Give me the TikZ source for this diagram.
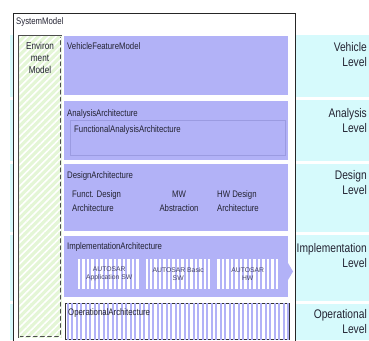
\documentclass[tikz,border=0pt]{standalone}
\usepackage{fontspec}
\setmainfont{Liberation Sans}[FakeStretch=0.82]
\newfontfamily\autofont{Liberation Sans}
\usetikzlibrary{patterns.meta}
\definecolor{lav}{RGB}{178,178,247}
\definecolor{lavline}{RGB}{155,155,225}
\definecolor{cyanbg}{RGB}{214,250,252}
\definecolor{envg}{RGB}{228,246,214}
\definecolor{txt}{RGB}{35,35,50}
\definecolor{autotxt}{RGB}{70,70,105}
\begin{document}
\begin{tikzpicture}[x=1pt,y=-1pt,
  every node/.style={inner sep=0pt, text=txt},
  ttl/.style={font=\fontsize{9.5}{11}\selectfont, anchor=west},
  sub/.style={font=\fontsize{9.5}{14}\selectfont},
  lvl/.style={font=\fontsize{12.5}{15}\selectfont, anchor=east, align=right},
  blk/.style={fill=lav, draw=none, anchor=north west},
  vstripes/.style={fill=white, postaction={pattern={Lines[angle=90,distance=4.5pt,line width=2pt]}, pattern color=lav}},
  autobox/.style={vstripes, anchor=north west, minimum height=30pt},
  autotext/.style={font=\autofont\fontsize{6.8}{8}\selectfont, text=autotxt, align=center}
]
\useasboundingbox (0,0) rectangle (369,340);
\begin{scope}
\clip (0,0) rectangle (369,340);
% level rows
\fill[cyanbg] (10,35) rectangle (369,97);
\fill[cyanbg] (10,100) rectangle (369,161);
\fill[cyanbg] (10,164) rectangle (369,232);
\fill[cyanbg] (10,235) rectangle (369,301);
\fill[cyanbg] (10,304) rectangle (369,340);
% system model
\node[draw=black!85, line width=0.7pt, fill=white, anchor=north west,
      minimum width=282pt, minimum height=335pt] (sys) at (13,13) {};
\node[ttl] (systxt) at (16,22) {SystemModel};
% environment model
\node[anchor=north west, minimum width=42pt, minimum height=301pt,
      draw=black!70, line width=0.5pt, double=envg, double distance=0.9pt,
      fill=envg, postaction={pattern={Lines[angle=45,distance=5pt,line width=1.6pt]}, pattern color=white}]
      (env) at (19,36) {};
\node[font=\fontsize{10}{12}\selectfont, align=center] (envtxt) at (40,58) {Environ\\ment\\Model};
% vehicle feature model
\node[blk, minimum width=224pt, minimum height=59pt] (veh) at (64,36) {};
\node[ttl] (vehtxt) at (67,46) {VehicleFeatureModel};
% analysis
\node[blk, minimum width=224pt, minimum height=59pt] (ana) at (64,101) {};
\node[ttl] (anatxt) at (67,114) {AnalysisArchitecture};
\node[anchor=north west, minimum width=215pt, minimum height=35pt, draw=lavline, line width=0.4pt] (fana) at (70,120) {};
\node[ttl] (fanatxt) at (74,130) {FunctionalAnalysisArchitecture};
% design
\node[blk, minimum width=224pt, minimum height=67pt] (des) at (64,164) {};
\node[ttl] (destxt) at (67,176) {DesignArchitecture};
\node[sub, align=left, anchor=west] (fdes) at (72,201) {Funct. Design\\Architecture};
\node[sub, align=center] (mw) at (179,201) {MW\\Abstraction};
\node[sub, align=left, anchor=west] (hw) at (217,201) {HW Design\\Architecture};
% implementation
\node[blk, minimum width=224pt, minimum height=61pt] (impl) at (64,236) {};
\fill[lav] (288,263) -- (293,271.5) -- (288,280) -- cycle;
\node[ttl] (impltxt) at (67,247) {ImplementationArchitecture};
\node[autobox, minimum width=62pt] (aapp) at (78,259) {};
\node[autobox, minimum width=64pt] (abas) at (146,259) {};
\node[autobox, minimum width=63pt] (ahw) at (216,259) {};
\node[autotext] at (aapp.center) {AUTOSAR\\Application SW};
\node[autotext] at (abas.center) {AUTOSAR Basic\\SW};
\node[autotext] at (ahw.center) {AUTOSAR\\HW};
% operational
\node[vstripes, draw=black!80, line width=0.6pt, anchor=north west,
      minimum width=224pt, minimum height=36pt] (op) at (65,303) {};
\node[ttl] (optxt) at (68,313) {OperationalArchitecture};
% levels
\node[lvl] (lveh) at (367,54.5) {Vehicle\\Level};
\node[lvl] (lana) at (367,120.5) {Analysis\\Level};
\node[lvl] (ldes) at (367,182.5) {Design\\Level};
\node[lvl] (limp) at (367,256) {Implementation\\Level};
\node[lvl] (lop) at (367,322) {Operational\\Level};
\end{scope}
\end{tikzpicture}
\end{document}
